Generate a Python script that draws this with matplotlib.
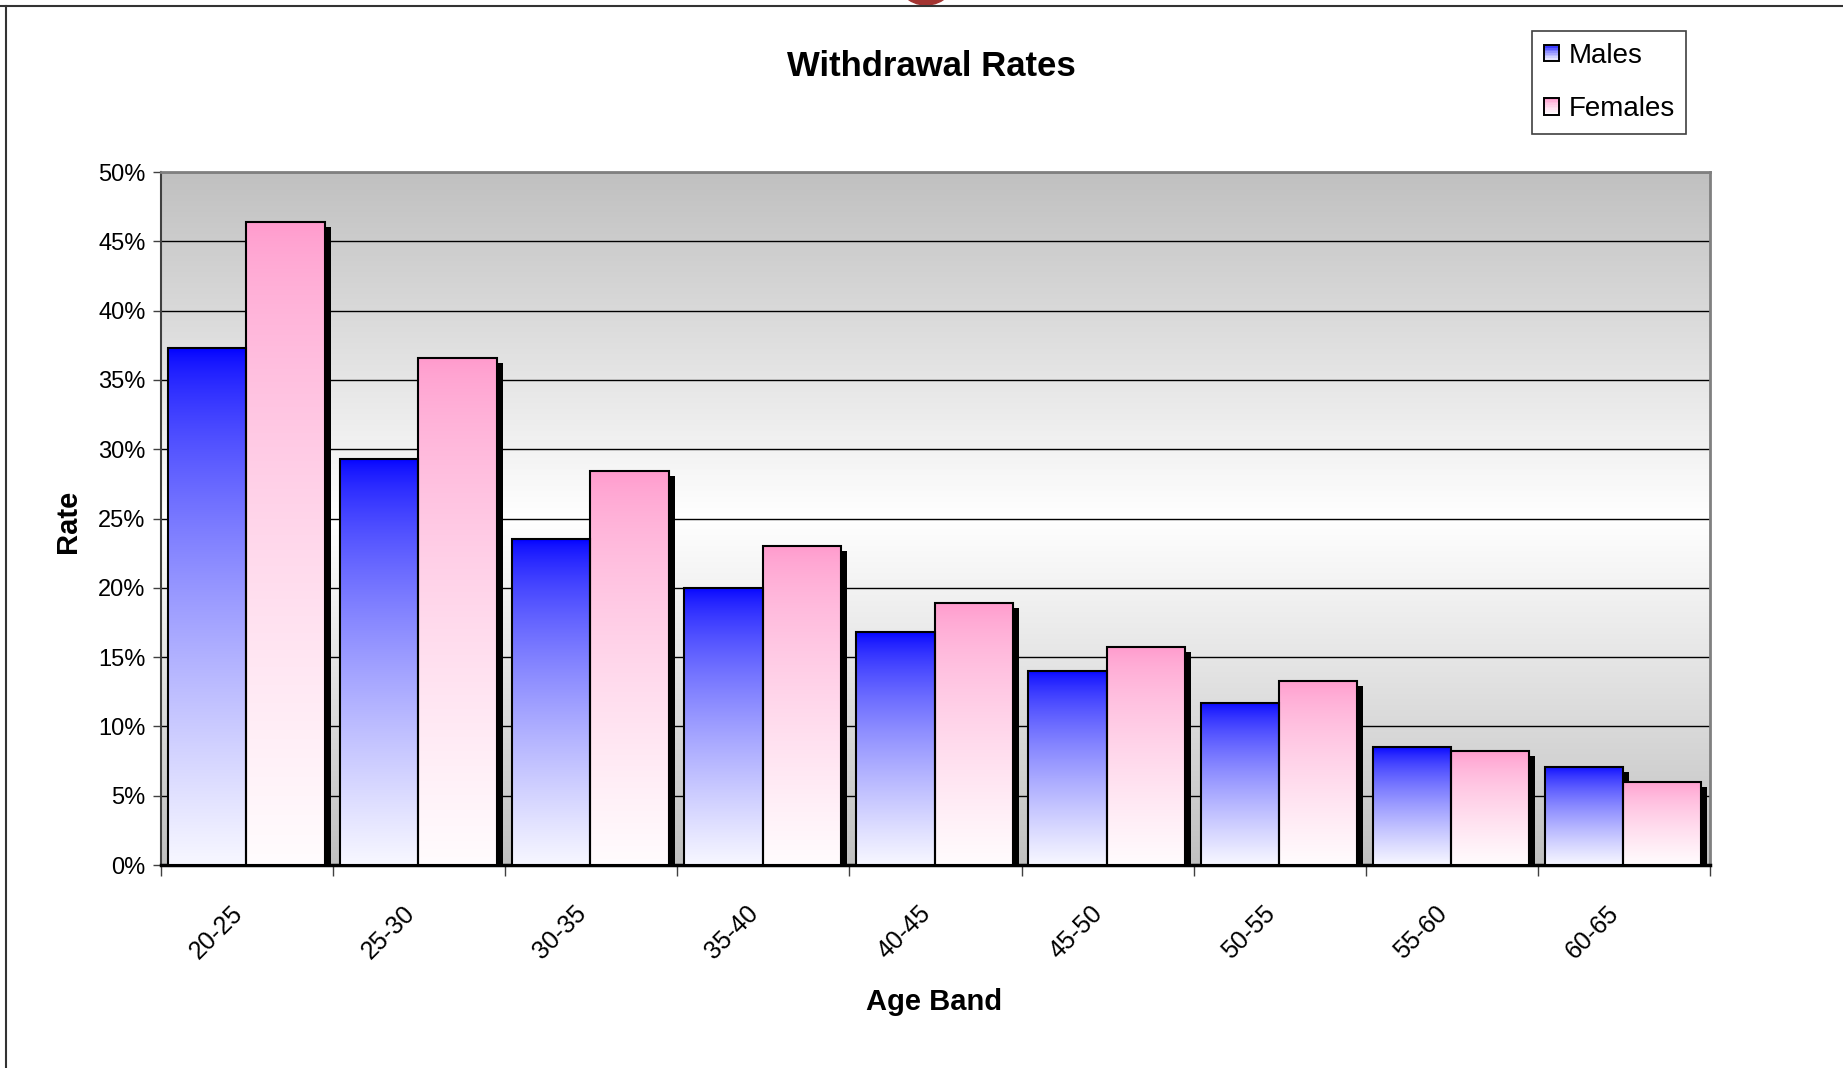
import numpy as np
import matplotlib
matplotlib.use("Agg")
import matplotlib.pyplot as plt
from matplotlib import font_manager
from matplotlib.patches import Rectangle, Patch, Ellipse
from matplotlib.lines import Line2D
from matplotlib.legend_handler import HandlerBase
from matplotlib.ticker import PercentFormatter, FixedLocator, NullFormatter
from matplotlib.colors import to_rgb

# =====================================================
# DATA
# =====================================================

age_bands = ["20-25", "25-30", "30-35", "35-40", "40-45",
             "45-50", "50-55", "55-60", "60-65"]

males = [0.373, 0.293, 0.235, 0.200, 0.168, 0.140, 0.117, 0.085, 0.071]
females = [0.464, 0.366, 0.284, 0.230, 0.189, 0.157, 0.133, 0.082, 0.060]

series_labels = ["Males", "Females"]
series_tops = ["#0000ff", "#ff99cc"]

# =====================================================
# FONTS
# =====================================================

installed = {f.name for f in font_manager.fontManager.ttflist}
base_font = "Liberation Sans" if "Liberation Sans" in installed else "DejaVu Sans"
plt.rcParams["font.family"] = base_font


def fade(top, n=256, power=0.65, reach=0.97):
    # top colour fading towards white at the bottom
    top = np.array(to_rgb(top))
    t = np.linspace(0, 1, n)[:, None]
    mix = reach * t ** power
    return (top + (1 - top) * mix)[:, None, :]


class GradientSwatch(HandlerBase):

    def __init__(self, top, steps=10):
        super().__init__()
        self.top = top
        self.steps = steps

    def create_artists(self, legend, orig_handle, xdescent, ydescent,
                       width, height, fontsize, trans):
        side = width * 1.1
        x0 = -xdescent
        y0 = -ydescent + (height - side) / 2
        cols = fade(self.top, n=self.steps)[:, 0, :]
        artists = []
        dh = side / self.steps
        for k in range(self.steps):
            r = Rectangle((x0, y0 + side - (k + 1) * dh), width, dh,
                          facecolor=cols[k], edgecolor="none", transform=trans)
            artists.append(r)
        artists.append(Rectangle((x0, y0), width, side, fill=False,
                                 edgecolor="black", linewidth=1.4,
                                 transform=trans))
        return artists


# =====================================================
# FIGURE
# =====================================================

W, H = 1843, 1068
fig = plt.figure(figsize=(W / 100, H / 100), dpi=100)
fig.patch.set_facecolor("white")

ax = fig.add_axes([161 / W, 1 - 865 / H, 1549 / W, 693 / H])

n = len(age_bands)
x = np.arange(n)
bar_w = 0.455
male_x = x + 0.04 + bar_w / 2
female_x = male_x + bar_w
shadow_dx = 0.035
shadow_dy = 0.0036

# plot area background: grey - white - grey
ys = np.linspace(0.5, 0.0, 256)
shade = 1 - (63 / 255) * np.abs(ys - 0.25) / 0.25
bg = np.repeat(shade[:, None, None], 3, axis=2)
ax.imshow(bg, extent=[0, n, 0, 0.5], aspect="auto", zorder=0,
          interpolation="bilinear")

# drop shadows
for xs, vals in [(male_x, males), (female_x, females)]:
    ax.bar(xs + shadow_dx, vals, width=bar_w, bottom=-shadow_dy,
           color="black", linewidth=0, zorder=2)

# bars with vertical gradient fill
for xs, vals, top, label in zip([male_x, female_x], [males, females],
                                series_tops, series_labels):
    bars = ax.bar(xs, vals, width=bar_w, facecolor="none",
                  edgecolor="black", linewidth=1.5, zorder=4, label=label)
    grad = fade(top)
    for b in bars:
        x0, y0 = b.get_x(), b.get_y()
        im = ax.imshow(grad, extent=[x0, x0 + b.get_width(), y0, y0 + b.get_height()],
                       aspect="auto", zorder=3, interpolation="bilinear")
        im.set_clip_path(b)

ax.set_xlim(0, n)
ax.set_ylim(0, 0.5)

# =====================================================
# AXES STYLE
# =====================================================

ax.set_yticks(np.arange(0, 0.501, 0.05))
ax.yaxis.set_major_formatter(PercentFormatter(xmax=1, decimals=0))
ax.set_axisbelow(True)
ax.yaxis.grid(True, color="black", linewidth=1.0, zorder=1)

ax.xaxis.set_major_locator(FixedLocator(np.arange(n + 1)))
ax.xaxis.set_major_formatter(NullFormatter())
ax.xaxis.set_minor_locator(FixedLocator(x + 0.5))
ax.set_xticklabels(age_bands, minor=True, rotation=45, ha="right",
                   fontsize=18)
ax.tick_params(axis="x", which="major", direction="out", length=8,
               width=1, color="#404040")
ax.tick_params(axis="x", which="minor", length=0, pad=26)
ax.tick_params(axis="y", direction="out", length=6, width=1,
               color="#404040", pad=5, labelsize=17)

ax.spines["left"].set_color("#404040")
ax.spines["left"].set_linewidth(1.5)
ax.spines["top"].set_color("#808080")
ax.spines["top"].set_linewidth(2)
ax.spines["right"].set_color("#808080")
ax.spines["right"].set_linewidth(2)
ax.spines["bottom"].set_color("black")
ax.spines["bottom"].set_linewidth(2.5)

ax.set_xlabel("Age Band", fontsize=21, fontweight="bold", va="center")
ax.xaxis.set_label_coords(0.499, -0.197)
ax.set_ylabel("Rate", fontsize=21, fontweight="bold", va="center")
ax.yaxis.set_label_coords(-0.060, 0.496)

fig.suptitle("Withdrawal Rates", x=931 / W, y=1 - 66 / H, va="center",
             fontsize=25, fontweight="bold")

# =====================================================
# LEGEND
# =====================================================

proxies = [Patch(label=lab) for lab in series_labels]
leg = fig.legend(
    handles=proxies,
    handler_map={p: GradientSwatch(c) for p, c in zip(proxies, series_tops)},
    loc="upper left",
    bbox_to_anchor=(1532 / W, 1 - 31 / H),
    bbox_transform=fig.transFigure,
    fontsize=20,
    frameon=True,
    fancybox=False,
    shadow=False,
    borderaxespad=0,
    borderpad=0.42,
    labelspacing=1.0,
    handlelength=0.55,
    handleheight=0.7,
    handletextpad=0.34,
)
leg.get_frame().set_edgecolor("#404040")
leg.get_frame().set_linewidth(1.2)
leg.get_frame().set_alpha(None)

# =====================================================
# PAGE FRAME
# =====================================================

fig.add_artist(Ellipse((926 / W, 1 + 26.4 / H), 62.8 / W, 62.8 / H,
                       transform=fig.transFigure, color="#a33431", zorder=1))
fig.add_artist(Line2D([0, 1], [1 - 5.5 / H, 1 - 5.5 / H],
                      transform=fig.transFigure, color="#333333",
                      linewidth=1.5, zorder=2))
fig.add_artist(Line2D([5.5 / W, 5.5 / W], [0, 1 - 5.5 / H],
                      transform=fig.transFigure, color="#333333",
                      linewidth=1.5, zorder=2))

fig.savefig("out.png", dpi=100)
